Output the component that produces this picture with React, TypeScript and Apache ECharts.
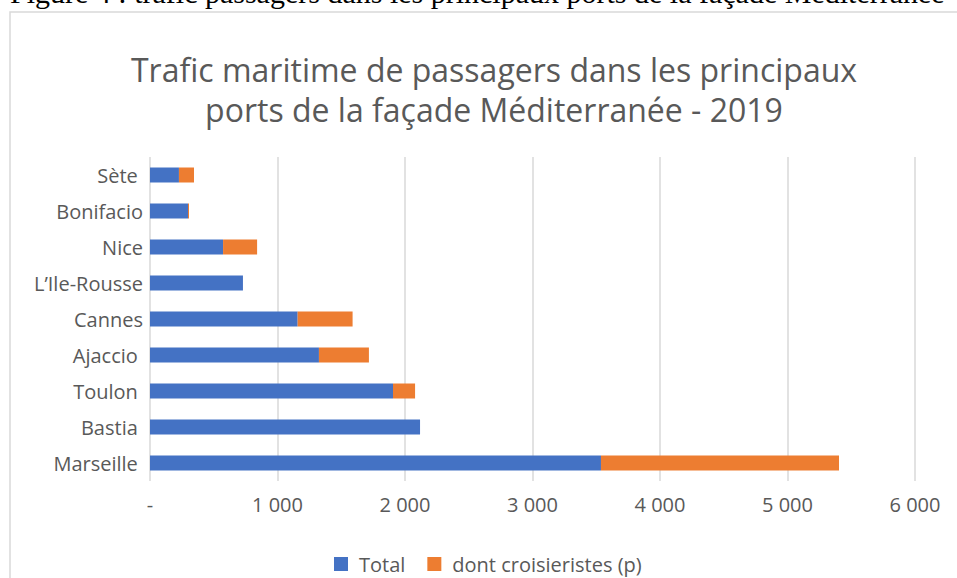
import React, { useEffect, useRef } from "react";
import * as echarts from "echarts";

const categories = ["Marseille ", "Bastia ", "Toulon ", "Ajaccio ", "Cannes", "L’Ile-Rousse", "Nice", "Bonifacio", "Sète "];
const totalValues = [3537, 2118, 1906, 1325, 1158, 729, 573, 298, 227];
const croisieristesValues = [1867, 0, 173, 392, 431, 0, 267, 8, 118];
const xTicks = [0, 1000, 2000, 3000, 4000, 5000, 6000];
const seriesNames = ["Total", "dont croisieristes (p)"];

const FONT = "'Open Sans', Lato, sans-serif";
const GRAY = "#595959";
const SMALL = 20;

export default function App() {
  const ref = useRef<HTMLDivElement>(null);
  useEffect(() => {
    if (!ref.current) return;
    const chart = echarts.init(ref.current, null, { renderer: "svg" });
    chart.setOption({
      animation: false,
      backgroundColor: "#ffffff",
      textStyle: { fontFamily: FONT },
      graphic: [
        {
          type: "rect",
          shape: { x: 10, y: 12, width: 980, height: 600 },
          style: { fill: "none", stroke: "#d9d9d9", lineWidth: 1.5 },
          silent: true,
        },
        {
          type: "text",
          x: 10,
          y: 7,
          style: {
            text: "Figure 4 : trafic passagers dans les principaux ports de la façade Méditerranée",
            font: "30px 'Liberation Serif', 'Times New Roman', serif",
            fill: "#000000",
            textVerticalAlign: "bottom",
          },
          silent: true,
        },
      ],
      title: {
        text: "Trafic maritime de passagers dans les principaux\nports de la façade Méditerranée - 2019",
        left: 489,
        top: 44,
        textAlign: "center",
        textStyle: { color: GRAY, fontSize: 32, fontWeight: "normal", fontFamily: FONT, lineHeight: 40 },
      },
      legend: {
        left: 334,
        top: 554,
        padding: 0,
        itemWidth: 14,
        itemHeight: 14,
        itemGap: 22,
        icon: "rect",
        textStyle: { color: GRAY, fontSize: SMALL, fontFamily: FONT, lineHeight: 20, padding: [0, 0, 0, 6] },
        data: seriesNames,
      },
      grid: { left: 150, right: 42, top: 157, height: 324, containLabel: false },
      xAxis: {
        type: "value",
        min: 0,
        max: 6000,
        interval: 1000,
        axisLine: { show: false },
        axisTick: { show: false },
        splitLine: { show: true, lineStyle: { color: "#d9d9d9", width: 1.5 } },
        axisLabel: {
          color: GRAY,
          fontSize: SMALL,
          fontFamily: FONT,
          margin: 13,
          customValues: xTicks,
          formatter: (v: number) => (v === 0 ? "-" : `${Math.floor(v / 1000)} ${String(v % 1000).padStart(3, "0")}`),
        },
      },
      yAxis: {
        type: "category",
        data: categories,
        axisLine: { show: false },
        axisTick: { show: false },
        axisLabel: { color: GRAY, fontSize: SMALL, fontFamily: FONT, margin: 7 },
      },
      series: [
        {
          name: seriesNames[0],
          type: "bar",
          stack: "a",
          barWidth: 15,
          data: totalValues,
          itemStyle: { color: "#4472C4" },
        },
        {
          name: seriesNames[1],
          type: "bar",
          stack: "a",
          barWidth: 15,
          data: croisieristesValues,
          itemStyle: { color: "#ED7D31" },
        },
      ],
    });
    return () => chart.dispose();
  }, []);
  return (
    <div style={{ position: "fixed", left: 0, top: 0, width: 957, height: 578, overflow: "hidden", background: "#fff" }}>
      <div ref={ref} style={{ width: 957, height: 578 }} />
    </div>
  );
}
